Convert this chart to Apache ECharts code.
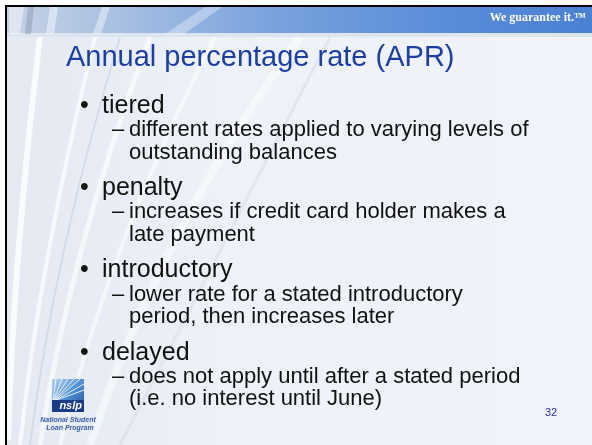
<!DOCTYPE html>
<html>
<head>
<meta charset="utf-8">
<script src="https://cdn.jsdelivr.net/npm/echarts@6/dist/echarts.min.js"></script>
<style>
  html, body { margin: 0; padding: 0; background: #fff; }
  #main { width: 592px; height: 445px; }
</style>
</head>
<body>
<div id="main"></div>
<script>
// slide text
var titleText = 'Annual percentage rate (APR)';
var bulletHeads = ['tiered', 'penalty', 'introductory', 'delayed'];
var bulletDetails = [
  ['different rates applied to varying levels of', 'outstanding balances'],
  ['increases if credit card holder makes a', 'late payment'],
  ['lower rate for a stated introductory', 'period, then increases later'],
  ['does not apply until after a stated period', '(i.e. no interest until June)']
];
var tagline = 'We guarantee it.\u2122';
var pageNumber = '32';
var logoWords = ['nslp', 'National Student', 'Loan Program'];

var chart = echarts.init(document.getElementById('main'));

var sans = '"Liberation Sans", Arial, sans-serif';
var els = [];

// background
els.push({
  type: 'rect', shape: { x: 6, y: 6, width: 586, height: 439 },
  style: { fill: new echarts.graphic.LinearGradient(0, 0, 1, 0, [
    { offset: 0, color: '#e4e9f2' }, { offset: 0.35, color: '#edf1f8' }, { offset: 1, color: '#f1f4fa' }
  ]) }
});
// faint sweeping streaks
var streaks = [
  [[8, 440], [14, 250], [40, 37], 'rgba(255,255,255,0.8)', 6],
  [[20, 445], [40, 260], [95, 37], 'rgba(255,255,255,0.7)', 4],
  [[40, 445], [70, 250], [150, 37], 'rgba(255,255,255,0.6)', 5],
  [[60, 445], [110, 240], [215, 37], 'rgba(255,255,255,0.55)', 4],
  [[30, 445], [55, 250], [120, 37], 'rgba(180,190,205,0.35)', 2],
  [[90, 445], [160, 230], [300, 37], 'rgba(255,255,255,0.45)', 8],
  [[120, 445], [220, 250], [330, 37], 'rgba(190,198,212,0.25)', 3]
];
streaks.forEach(function (s) {
  els.push({
    type: 'bezierCurve',
    shape: { x1: s[0][0], y1: s[0][1], cpx1: s[1][0], cpy1: s[1][1], x2: s[2][0], y2: s[2][1] },
    style: { stroke: s[3], lineWidth: s[4], fill: null }
  });
});

// header band
els.push({
  type: 'rect', shape: { x: 6, y: 6, width: 586, height: 28 },
  style: { fill: new echarts.graphic.LinearGradient(0, 0, 1, 0, [
    { offset: 0, color: '#c6d2e4' }, { offset: 0.2, color: '#a7bfe2' },
    { offset: 0.45, color: '#7aa3de' }, { offset: 0.75, color: '#5a8cd8' }, { offset: 1, color: '#4a80d4' }
  ]) }
});
els.push({ type: 'rect', shape: { x: 6, y: 33, width: 586, height: 4 }, style: { fill: '#dde5f1' } });
var headerStreaks = [
  [[9, 7], [24, 7], [20, 34], [9, 34], 'rgba(255,255,255,0.45)'],
  [[28, 7], [34, 7], [31, 34], [25, 34], 'rgba(90,100,120,0.25)'],
  [[50, 7], [58, 7], [54, 34], [46, 34], 'rgba(255,255,255,0.45)'],
  [[102, 7], [110, 7], [101, 34], [93, 34], 'rgba(255,255,255,0.4)'],
  [[205, 7], [222, 7], [184, 34], [165, 34], 'rgba(255,255,255,0.35)']
];
headerStreaks.forEach(function (p) {
  els.push({ type: 'polygon', shape: { points: p.slice(0, 4) }, style: { fill: p[4] } });
});
els.push({
  type: 'text',
  style: { text: tagline, x: 586, y: 18, align: 'right', verticalAlign: 'middle',
    font: 'bold 12px "Liberation Serif", "Times New Roman", serif', fill: '#ffffff' }
});

// frame lines
els.push({ type: 'rect', shape: { x: 5, y: 5, width: 587, height: 2 }, style: { fill: '#000' } });
els.push({ type: 'rect', shape: { x: 5, y: 5, width: 2, height: 440 }, style: { fill: '#000' } });

// title
els.push({
  type: 'text',
  style: { text: titleText, x: 66, y: 58, verticalAlign: 'middle',
    font: '29px ' + sans, fill: '#1c3fa6' }
});

// bullets
var firstBase = 115, groupStep = 82.3;
bulletHeads.forEach(function (head, i) {
  var base = firstBase + i * groupStep;
  els.push({ type: 'text', style: { text: '\u2022', x: 80, y: base - 9, verticalAlign: 'middle',
    font: '25px ' + sans, fill: '#111' } });
  els.push({ type: 'text', style: { text: head, x: 102, y: base - 9, verticalAlign: 'middle',
    font: '25px ' + sans, fill: '#111' } });
  bulletDetails[i].forEach(function (line, j) {
    var b = base + 23 + j * 22.5;
    if (j === 0) {
      els.push({ type: 'text', style: { text: '\u2013', x: 112, y: b - 8, verticalAlign: 'middle',
        font: '22px ' + sans, fill: '#111' } });
    }
    els.push({ type: 'text', style: { text: line, x: 129, y: b - 8, verticalAlign: 'middle',
      font: '22px ' + sans, fill: '#111' } });
  });
});

// page number
els.push({ type: 'text', style: { text: pageNumber, x: 545, y: 413, verticalAlign: 'middle',
  font: '11px ' + sans, fill: '#2b2fa8' } });

// logo
var lx = 52, ly = 379, lw = 32, lh = 33;
els.push({ type: 'rect', shape: { x: lx, y: ly, width: lw, height: lh },
  style: { fill: new echarts.graphic.LinearGradient(0, 0, 1, 1, [
    { offset: 0, color: '#b7d3ef' }, { offset: 0.5, color: '#4f8fd3' }, { offset: 1, color: '#1d4f9e' }
  ]) } });
[[56, ly], [62, ly], [68, ly], [74, ly], [80, ly], [lx + lw, ly + 5], [lx + lw, ly + 11]].forEach(function (pt, k) {
  els.push({ type: 'line', shape: { x1: lx + 1 + k * 0.6, y1: ly + 21, x2: pt[0], y2: pt[1] },
    style: { stroke: 'rgba(255,255,255,0.85)', lineWidth: 1 } });
});
els.push({ type: 'rect', shape: { x: lx, y: ly + 21, width: lw, height: lh - 21 }, style: { fill: '#1b3c86' } });
els.push({ type: 'text', style: { text: logoWords[0], x: lx + lw - 2, y: ly + 27, align: 'right', verticalAlign: 'middle',
  font: 'italic bold 11px ' + sans, fill: '#ffffff' } });
els.push({ type: 'text', style: { text: logoWords[1], x: 68, y: 420, align: 'center', verticalAlign: 'middle',
  font: 'italic bold 7px ' + sans, fill: '#3a5ea8' } });
els.push({ type: 'text', style: { text: logoWords[2], x: 70, y: 428, align: 'center', verticalAlign: 'middle',
  font: 'italic bold 7px ' + sans, fill: '#3a5ea8' } });

chart.setOption({
  animation: false,
  graphic: { elements: els }
});
</script>
</body>
</html>
